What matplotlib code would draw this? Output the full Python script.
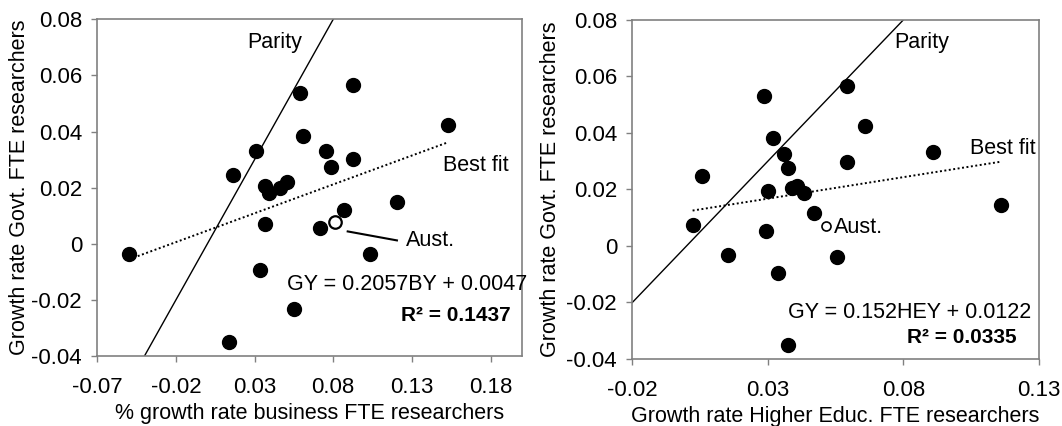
"""
Govt. FTE researcher growth against business and higher-education growth,
two Excel-style scatter panels with parity and best-fit lines.
"""

import matplotlib
matplotlib.use('Agg')
import matplotlib.pyplot as plt

plt.rcParams['font.family'] = ['Liberation Sans', 'DejaVu Sans']
plt.rcParams['font.size'] = 16
plt.rcParams['axes.unicode_minus'] = False

# Left panel: business growth (x) vs govt growth (y)
bus_x = [-0.0496, 0.0161, 0.0311, 0.0365, 0.0393, 0.0461, 0.0507, 0.0365, 0.0337,
         0.0139, 0.0548, 0.0591, 0.0608, 0.0757, 0.0785, 0.0925, 0.0925, 0.0715,
         0.0871, 0.1036, 0.1204, 0.1531]
bus_y = [-0.0038, 0.0246, 0.0332, 0.0205, 0.0181, 0.0199, 0.0219, 0.0069, -0.0094,
         -0.0349, -0.0234, 0.0537, 0.0383, 0.0332, 0.0274, 0.0565, 0.0302, 0.0055,
         0.0122, -0.0038, 0.0148, 0.0424]
aust_bus = (0.0810, 0.0077)
bus_fit = (0.2057, 0.0047)

# Right panel: higher education growth (x) vs govt growth (y)
he_x = [0.00225, 0.00575, 0.0154, 0.0285, 0.0320, 0.0358, 0.0373, 0.0301, 0.0294,
        0.0339, 0.0375, 0.0388, 0.0406, 0.0433, 0.0469, 0.0554, 0.0591, 0.0591,
        0.0658, 0.0908, 0.1160]
he_y = [0.0073, 0.0248, -0.0033, 0.0531, 0.0384, 0.0326, 0.0276, 0.0195, 0.0052,
        -0.0096, -0.0351, 0.0205, 0.0214, 0.0187, 0.0116, -0.0039, 0.0567, 0.0299,
        0.0426, 0.0334, 0.0145]
aust_he = (0.0514, 0.0069)
he_fit = (0.152, 0.0122)

y_ticks = [-0.04, -0.02, 0, 0.02, 0.04, 0.06, 0.08]
y_labels = ['-0.04', '-0.02', '0', '0.02', '0.04', '0.06', '0.08']
bus_ticks = [-0.07, -0.02, 0.03, 0.08, 0.13, 0.18]
bus_labels = ['-0.07', '-0.02', '0.03', '0.08', '0.13', '0.18']
he_ticks = [-0.02, 0.03, 0.08, 0.13]
he_labels = ['-0.02', '0.03', '0.08', '0.13']

GREY = '#808080'
NOTE_SIZE = 15.5
R2_SIZE = 15


def style_axes(ax, xlim, xticks, xlabels, xlabel, ylab_x):
    ax.set_xlim(*xlim)
    ax.set_ylim(-0.04, 0.08)
    ax.set_xticks(xticks)
    ax.set_xticklabels(xlabels)
    ax.set_yticks(y_ticks)
    ax.set_yticklabels(y_labels)
    for sp in ax.spines.values():
        sp.set_color(GREY)
        sp.set_linewidth(1.2)
    ax.tick_params(direction='out', length=4, width=1.0, color=GREY,
                   labelcolor='black')
    ax.tick_params(axis='x', pad=11)
    ax.tick_params(axis='y', pad=7)
    ax.set_xlabel(xlabel, labelpad=4, fontsize=15.5)
    ax.set_ylabel('Growth rate Govt. FTE researchers', fontsize=15.5)
    ax.yaxis.set_label_coords(ylab_x, 0.5)


def draw_panel(ax, xs, ys, fit, xlim):
    # parity line y = x, clipped by the axes
    ax.plot([xlim[0], xlim[1]], [xlim[0], xlim[1]], color='black', lw=1.0)
    # best fit over the data range
    slope, icpt = fit
    x0, x1 = min(xs), max(xs)
    ax.plot([x0, x1], [slope * x0 + icpt, slope * x1 + icpt], color='black',
            lw=1.4, linestyle=(0, (1, 1.3)))
    ax.plot(xs, ys, 'o', color='black', ms=10, zorder=3)


fig = plt.figure(figsize=(10.62, 4.26), dpi=100)

# left panel
ax1 = fig.add_axes([0.0916, 0.1643, 0.3999, 0.7904])
xlim1 = (-0.07, 0.2)
draw_panel(ax1, bus_x, bus_y, bus_fit, xlim1)
ax1.plot(*aust_bus, 'o', mfc='white', mec='black', mew=1.6, ms=9, zorder=4)
ax1.plot([0.0892, 0.1205], [0.0044, 0.0012], color='black', lw=1.5)
ax1.text(0.1263, 0.0011, 'Aust.', ha='left', va='center', fontsize=NOTE_SIZE)
ax1.text(0.0426, 0.0716, 'Parity', ha='center', va='center', fontsize=NOTE_SIZE)
ax1.text(0.1706, 0.0278, 'Best fit', ha='center', va='center', fontsize=NOTE_SIZE)
ax1.text(0.0505, -0.0145, 'GY = 0.2057BY + 0.0047', ha='left', va='center',
         fontsize=NOTE_SIZE, clip_on=False)
ax1.text(0.1926, -0.0254, 'R² = 0.1437', ha='right', va='center',
         fontsize=R2_SIZE, fontweight='bold')
style_axes(ax1, xlim1, bus_ticks, bus_labels,
           '% growth rate business FTE researchers', -0.158)

# right panel
ax2 = fig.add_axes([0.5954, 0.1573, 0.3827, 0.7958])
xlim2 = (-0.02, 0.13)
draw_panel(ax2, he_x, he_y, he_fit, xlim2)
ax2.plot(*aust_he, 'o', mfc='white', mec='black', mew=1.2, ms=6.5, zorder=4)
ax2.text(0.0544, 0.0066, 'Aust.', ha='left', va='center', fontsize=NOTE_SIZE)
ax2.text(0.0868, 0.0719, 'Parity', ha='center', va='center', fontsize=NOTE_SIZE)
ax2.text(0.1167, 0.0344, 'Best fit', ha='center', va='center', fontsize=NOTE_SIZE)
ax2.text(0.0375, -0.0236, 'GY = 0.152HEY + 0.0122', ha='left', va='center',
         fontsize=NOTE_SIZE)
ax2.text(0.1217, -0.0323, 'R² = 0.0335', ha='right', va='center',
         fontsize=R2_SIZE, fontweight='bold')
style_axes(ax2, xlim2, he_ticks, he_labels,
           'Growth rate Higher Educ. FTE researchers', -0.176)

fig.savefig('out.png', dpi=100)
plt.close(fig)
